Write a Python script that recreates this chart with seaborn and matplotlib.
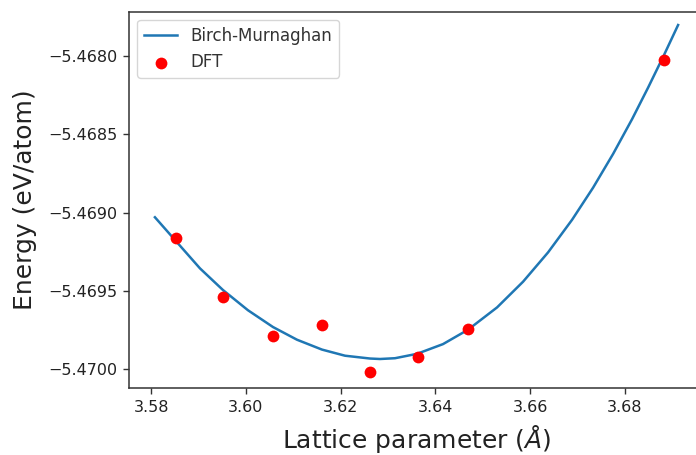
import matplotlib
matplotlib.use("Agg")
import matplotlib.pyplot as plt
import matplotlib.ticker as mticker
import seaborn as sns
import pandas as pd

# DFT data points (lattice parameter in Å, energy in eV/atom)
dft_a = [3.5852, 3.5952, 3.6058, 3.6160, 3.6262, 3.6364, 3.6469, 3.6883]
dft_e = [-5.469165, -5.469537, -5.469788, -5.469717, -5.470019, -5.469923, -5.469743, -5.468027]

bm_a = [3.58078, 3.58501, 3.59029, 3.59514, 3.60042, 3.60570, 3.61077, 3.61605,
        3.62091, 3.62619, 3.62830, 3.63147, 3.63611, 3.64160, 3.64689, 3.65301, 3.65850,
        3.66378, 3.66885, 3.67329, 3.67751, 3.68152, 3.68490, 3.68834, 3.69123]
bm_e = [-5.469030, -5.469175, -5.469356, -5.469494, -5.469623, -5.469730, -5.469811, -5.469874,
        -5.469913, -5.469931, -5.469934, -5.469929, -5.469901, -5.469839, -5.469747, -5.469605,
        -5.469441, -5.469254, -5.469046, -5.468841, -5.468626, -5.468404, -5.468203, -5.467990,
        -5.467804]

x_ticks = [3.58, 3.60, 3.62, 3.64, 3.66, 3.68]
y_ticks = [-5.4700, -5.4695, -5.4690, -5.4685, -5.4680]

bm_df = pd.DataFrame({"a": bm_a, "E": bm_e})
dft_df = pd.DataFrame({"a": dft_a, "E": dft_e})

plt.rcParams["font.family"] = ["DejaVu Sans"]
plt.rcParams["mathtext.fontset"] = "dejavusans"

fig = plt.figure(figsize=(6.96, 4.55), dpi=100)
ax = fig.add_axes([0.1853, 0.1462, 0.8262, 0.8281])

sns.lineplot(data=bm_df, x="a", y="E", ax=ax, color="#1f77b4", linewidth=1.8,
             label="Birch-Murnaghan", estimator=None, sort=False)
sns.scatterplot(data=dft_df, x="a", y="E", ax=ax, color="red", s=72,
                linewidth=0, label="DFT", zorder=3)

ax.set_xlim(3.5753, 3.6967)
ax.set_ylim(-5.470122, -5.467719)
ax.set_xticks(x_ticks)
ax.set_yticks(y_ticks)
ax.xaxis.set_major_formatter(mticker.FuncFormatter(lambda v, p: f"{v:.2f}"))
ax.yaxis.set_major_formatter(mticker.FuncFormatter(
    lambda v, p: f"{v:.4f}".replace("-", "\u2212")))
ax.tick_params(axis="both", labelsize=11.5, length=4.5, width=1.0, colors="#333333",
               labelcolor="#222222")
for sp in ax.spines.values():
    sp.set_linewidth(1.1)
    sp.set_color("#333333")

ax.set_xlabel("Lattice parameter ($Å$)", fontsize=18, color="#222222", labelpad=6)
ax.set_ylabel("Energy (eV/atom)", fontsize=18, color="#222222", labelpad=8)

leg = ax.legend(loc="upper left", fontsize=12, borderaxespad=0.5)
for t in leg.get_texts():
    t.set_color("#333333")

fig.savefig("out.png", dpi=100)
